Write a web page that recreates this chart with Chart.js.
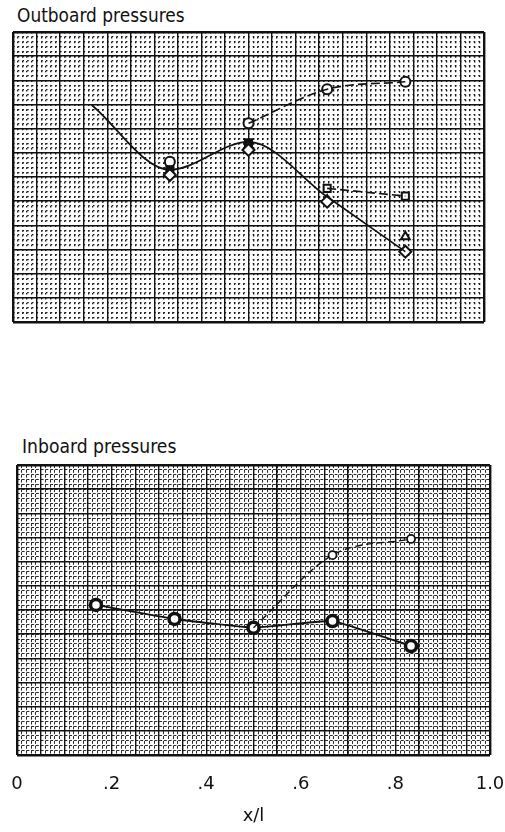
<!DOCTYPE html>
<html><head><meta charset="utf-8">
<script src="https://cdn.jsdelivr.net/npm/chart.js@4.4.1/dist/chart.umd.min.js"></script>
<style>
html,body{margin:0;padding:0;background:#fff;width:505px;height:832px;overflow:hidden;position:relative;}
.wrap{position:absolute;left:0;width:520px;}
.ttl{position:absolute;font-family:'DejaVu Sans',sans-serif;font-size:20px;line-height:24px;color:#111;white-space:nowrap;transform-origin:0 0;transform:scaleX(0.85);}
</style></head><body>
<div class="ttl" style="left:17px;top:3px">Outboard pressures</div>
<div class="wrap" style="top:0;height:335px"><canvas id="c1" width="520" height="335"></canvas></div>
<div class="ttl" style="left:22px;top:434px;transform:scaleX(0.86)">Inboard pressures</div>
<div class="wrap" style="top:430px;height:402px"><canvas id="c2" width="520" height="402"></canvas></div>
<script>
// ---- data ----
const stations = [0.167, 0.333, 0.5, 0.667, 0.833];
const xTickLabels = ['0', '.2', '.4', '.6', '.8', '1.0'];
const xTickValues = [0, 0.2, 0.4, 0.6, 0.8, 1.0];
// Outboard pressures (grid units, 0 = bottom of panel)
const outMainCurve   = [8.98, 6.30, 7.45, 5.18, 2.91];
const outUpperCircle = [null, 6.63, 8.22, 9.63, 9.94];
const outUpperLine   = [null, null, 8.22, 9.63, 9.94];
const outSquare      = [null, 6.30, 7.42, 5.53, 5.21];
const outSquareDash  = [null, null, null, 5.53, 5.21];
const outTriangle    = [null, 6.20, 7.30, 5.05, 3.53];
const outDiamond     = [null, 6.08, 7.12, 4.98, 2.91];
// Inboard pressures
const inSolid  = [6.21, 5.63, 5.27, 5.54, 4.51];
const inDashed = [null, null, 5.27, 8.27, 8.94];

const pts = arr => stations.map((x, i) => ({x, y: arr[i]})).filter(p => p.y !== null);

const FONT = "'DejaVu Sans',sans-serif";
const range = (a, b, step) => { const r = []; const n = Math.round((b - a) / step); for (let i = 0; i <= n; i++) r.push(+(a + i * step).toFixed(4)); return r; };

function scales(o) {
  const edge = (c, lo, hi) => (Math.abs(c.tick.value - lo) < 1e-6 || Math.abs(c.tick.value - hi) < 1e-6) ? 2.4 : 1.4;
  return {
    x: {
      type: 'linear', min: 0, max: 1, position: 'bottom',
      afterBuildTicks: s => { s.ticks = range(0, 1, 0.05).map(v => ({value: v})); },
      grid: {color: '#111', lineWidth: c => edge(c, 0, 1), drawTicks: o.labels, tickLength: 19, tickColor: 'rgba(0,0,0,0)', z: -1},
      border: {display: false},
      ticks: {
        display: o.labels, autoSkip: false, maxRotation: 0, padding: 0, color: '#111',
        font: {family: FONT, size: 18},
        callback: v => { const k = xTickValues.findIndex(t => Math.abs(t - v) < 1e-6); return k >= 0 ? xTickLabels[k] : ''; }
      },
      title: {display: o.labels, text: 'x/l', color: '#111', font: {family: FONT, size: 18}, padding: {top: 0, bottom: 0}},
      afterFit: s => { s.height = o.xh; }
    },
    xm: {
      type: 'linear', min: 0, max: 1, position: 'bottom',
      afterBuildTicks: s => { s.ticks = range(0, 1, 0.01).map(v => ({value: v})); },
      grid: {color: o.minorColor, lineWidth: o.minorW, drawTicks: false, z: -2},
      border: {display: false, dash: o.dashV},
      ticks: {display: false},
      afterFit: s => { s.height = 0; }
    },
    y: {
      type: 'linear', min: 0, max: 12, position: 'left',
      afterBuildTicks: s => { s.ticks = range(0, 12, 1).map(v => ({value: v})); },
      grid: {color: '#111', lineWidth: c => edge(c, 0, 12), drawTicks: false, z: -1},
      border: {display: false},
      ticks: {display: false},
      afterFit: s => { s.width = 0; }
    },
    ym: {
      type: 'linear', min: 0, max: 12, position: 'left',
      afterBuildTicks: s => { s.ticks = range(0, 12, 0.2).map(v => ({value: v})); },
      grid: {color: o.minorColor, lineWidth: o.minorW, drawTicks: false, z: -2},
      border: {display: false, dash: o.dashH},
      ticks: {display: false},
      afterFit: s => { s.width = 0; }
    }
  };
}

const baseOptions = {
  responsive: false, animation: false, devicePixelRatio: 1,
  plugins: {legend: {display: false}, tooltip: {enabled: false}, title: {display: false}},
  elements: {line: {borderColor: '#111', fill: false}, point: {borderColor: '#111'}}
};

const marker = (data, style, fill, r) => ({
  data, showLine: false, pointStyle: style, pointRadius: r || 5, pointBorderWidth: 2,
  pointBackgroundColor: fill, pointBorderColor: '#111', xAxisID: 'x', yAxisID: 'y'
});

new Chart(document.getElementById('c1'), {
  type: 'scatter',
  data: {
    datasets: [
      {data: pts(outMainCurve), showLine: true, borderColor: '#111', borderWidth: 1.7, tension: 0.4, cubicInterpolationMode: 'monotone', pointRadius: 0},
      {data: pts(outUpperLine), showLine: true, borderColor: '#111', borderWidth: 1.6, borderDash: [9, 4], tension: 0.4, cubicInterpolationMode: 'monotone', pointRadius: 0},
      {data: pts(outSquareDash), showLine: true, borderColor: '#111', borderWidth: 1.6, borderDash: [9, 4], pointRadius: 0},
      marker(pts(outDiamond), 'rectRot', '#fff', 6),
      marker(pts(outTriangle), 'triangle', '#fff', 5),
      marker(pts(outSquare), 'rect', ['#111', '#111', '#fff', '#fff'], 5),
      marker(pts(outUpperCircle), 'circle', '#fff', 5)
    ]
  },
  options: Object.assign({}, baseOptions, {
    layout: {padding: {left: 13, right: 36, top: 32, bottom: 13}},
    scales: scales({labels: false, xh: 0, minorColor: '#1a1a1a', minorW: 1.3, dashV: [1.6, 3.233], dashH: [1.6, 3.1]})
  })
});

new Chart(document.getElementById('c2'), {
  type: 'scatter',
  data: {
    datasets: [
      {data: pts(inDashed), showLine: true, borderColor: '#111', borderWidth: 1.4, borderDash: [7, 4], tension: 0.4, cubicInterpolationMode: 'monotone',
        pointRadius: [0, 4, 4], pointStyle: 'circle', pointBackgroundColor: '#fff', pointBorderColor: '#111', pointBorderWidth: 1.8},
      {data: pts(inSolid), showLine: true, borderColor: '#111', borderWidth: 1.9, tension: 0.1,
        pointRadius: 5.5, pointStyle: 'circle', pointBackgroundColor: '#fff', pointBorderColor: '#111', pointBorderWidth: 3.5}
    ]
  },
  options: Object.assign({}, baseOptions, {
    layout: {padding: {left: 17, right: 30, top: 35, bottom: 5}},
    scales: scales({labels: true, xh: 72, minorColor: '#2a2a2a', minorW: 1, dashV: [3, 1.84], dashH: [2.9, 1.84]})
  })
});
</script>
</body></html>
